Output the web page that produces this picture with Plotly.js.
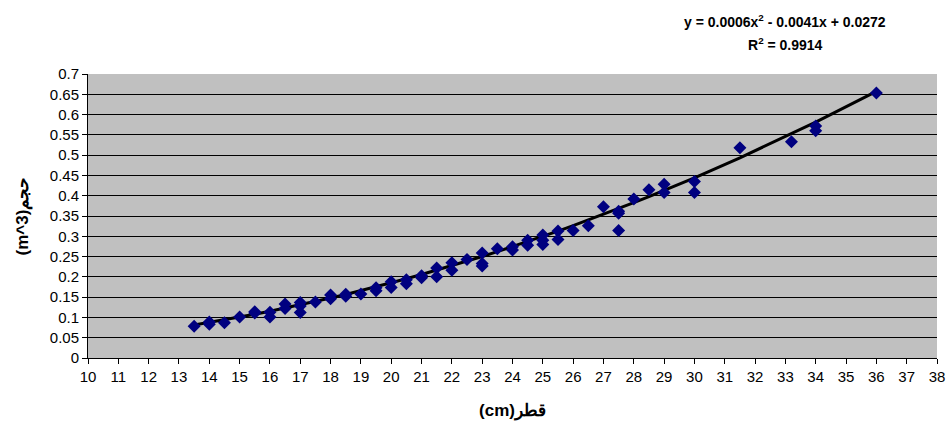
<!DOCTYPE html>
<html>
<head>
<meta charset="utf-8">
<script src="https://cdn.plot.ly/plotly-3.0.1.min.js"></script>
<style>html,body{margin:0;padding:0;background:#fff;}#chart{width:949px;height:427px;}</style>
</head>
<body>
<div id="chart"></div>
<script>
const diameter = [13.5, 14, 14, 14.5, 15, 15.5, 15.5, 16, 16, 16.5, 16.5, 17, 17, 17, 17.5, 18, 18, 18.5, 18.5, 19, 19.5, 19.5, 20, 20, 20.5, 20.5, 21, 21, 21.5, 21.5, 22, 22, 22.5, 23, 23, 23, 23.5, 24, 24, 24.5, 24.5, 25, 25, 25, 25.5, 25.5, 26, 26.5, 27, 27.5, 27.5, 27.5, 28, 28.5, 29, 29, 30, 30, 31.5, 33.2, 34, 34, 36];
const volume = [0.078, 0.089, 0.083, 0.087, 0.101, 0.111, 0.114, 0.113, 0.101, 0.133, 0.122, 0.137, 0.128, 0.112, 0.138, 0.155, 0.146, 0.157, 0.152, 0.158, 0.173, 0.166, 0.188, 0.174, 0.193, 0.183, 0.198, 0.203, 0.222, 0.200, 0.235, 0.216, 0.243, 0.259, 0.233, 0.227, 0.269, 0.274, 0.266, 0.290, 0.278, 0.303, 0.290, 0.280, 0.313, 0.292, 0.314, 0.326, 0.373, 0.357, 0.362, 0.314, 0.392, 0.415, 0.428, 0.408, 0.435, 0.408, 0.518, 0.533, 0.572, 0.560, 0.653];
// Trendline coefficients shown on the chart: y = a x^2 + b x + c
const trendCoef = [0.0006, -0.0041, 0.0272];
const xTicks = [10,11,12,13,14,15,16,17,18,19,20,21,22,23,24,25,26,27,28,29,30,31,32,33,34,35,36,37,38];
const yTicks = [0,0.05,0.1,0.15,0.2,0.25,0.3,0.35,0.4,0.45,0.5,0.55,0.6,0.65,0.7];
const yTickText = ["0","0.05","0.1","0.15","0.2","0.25","0.3","0.35","0.4","0.45","0.5","0.55","0.6","0.65","0.7"];
const eqLine1 = "y = 0.0006x<sup>2</sup> - 0.0041x + 0.0272";
const eqLine2 = "R<sup>2</sup> = 0.9914";

const trendX = Array.from(new Set(diameter)).sort((a,b)=>a-b);
const trendY = trendX.map(x => trendCoef[0]*x*x + trendCoef[1]*x + trendCoef[2]);

const font = "Liberation Sans, Arial, sans-serif";
const data = [
  {x: trendX, y: trendY, type: 'scatter', mode: 'lines', line: {color: '#000000', width: 3}, hoverinfo: 'skip'},
  {x: diameter, y: volume, type: 'scatter', mode: 'markers',
   marker: {symbol: 'diamond', size: 10, color: '#000080', line: {width: 0}}}
];
const layout = {
  width: 949, height: 427,
  margin: {l: 88, r: 12, t: 74, b: 69},
  paper_bgcolor: '#ffffff', plot_bgcolor: '#c0c0c0',
  showlegend: false,
  font: {family: font, size: 15, color: '#000'},
  xaxis: {range: [10, 38], tickmode: 'array', tickvals: xTicks, ticktext: xTicks.map(String),
    ticks: 'outside', ticklen: 5, tickcolor: '#000', showgrid: false, zeroline: false,
    showline: true, linecolor: '#000', linewidth: 1,
    tickfont: {family: font, size: 15},
    title: {text: '(cm)قطر', font: {family: font, size: 17, weight: 'bold'}, standoff: 20}},
  yaxis: {range: [0, 0.7], tickmode: 'array', tickvals: yTicks, ticktext: yTickText,
    ticks: 'outside', ticklen: 5, tickcolor: '#000', showgrid: true, gridcolor: '#000', gridwidth: 1,
    zeroline: false, showline: true, linecolor: '#000', linewidth: 1,
    tickfont: {family: font, size: 15},
    title: {text: '(m^3)حجم', font: {family: font, size: 17, weight: 'bold'}, standoff: 16}},
  annotations: [
    {xref: 'paper', yref: 'paper', x: 0.821, y: 1.187, text: eqLine1, showarrow: false,
     xanchor: 'center', yanchor: 'middle', font: {family: font, size: 14, weight: 'bold'}},
    {xref: 'paper', yref: 'paper', x: 0.821, y: 1.106, text: eqLine2, showarrow: false,
     xanchor: 'center', yanchor: 'middle', font: {family: font, size: 14, weight: 'bold'}}
  ]
};
Plotly.newPlot('chart', data, layout, {displayModeBar: false, staticPlot: true});
</script>
</body>
</html>
